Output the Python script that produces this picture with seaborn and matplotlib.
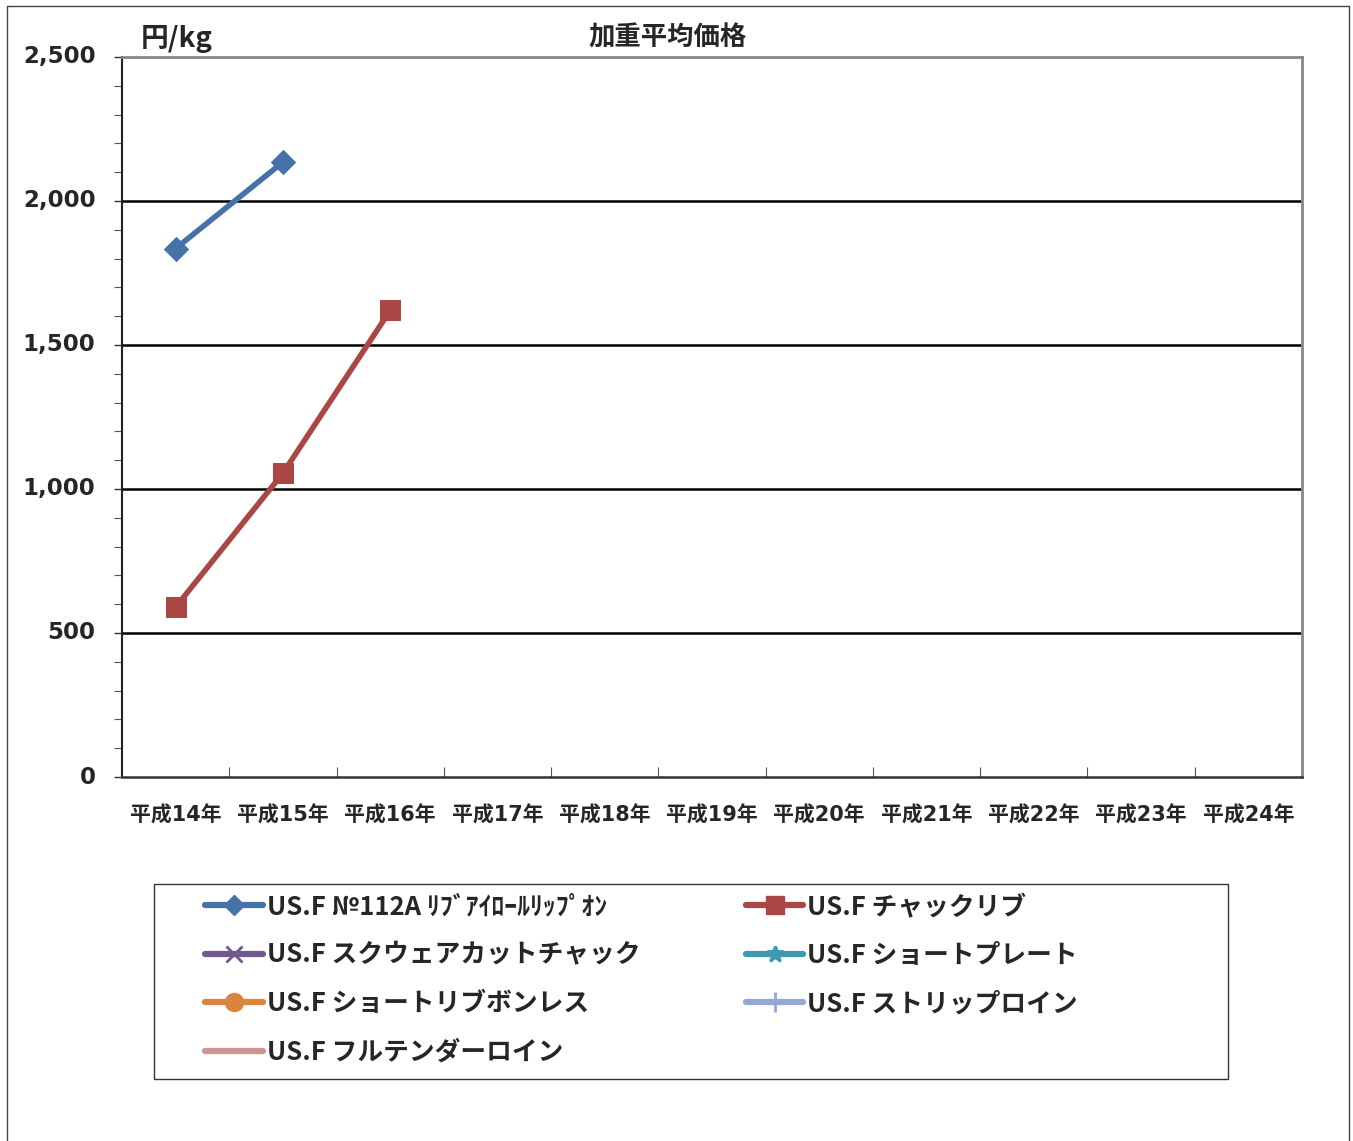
import matplotlib
matplotlib.use("Agg")
import matplotlib.pyplot as plt
from matplotlib.lines import Line2D
from matplotlib.patches import Rectangle
from matplotlib.ticker import MultipleLocator, FixedLocator
import seaborn as sns
import pandas as pd
import numpy as np

sns.set_theme(style="white")
plt.rcParams['font.family'] = ['DejaVu Sans', 'Noto Sans CJK JP']

# ---- data ----
years = ["平成14年", "平成15年", "平成16年", "平成17年", "平成18年", "平成19年",
         "平成20年", "平成21年", "平成22年", "平成23年", "平成24年"]
series_names = ["US.F №112A ﾘﾌﾞｱｲﾛｰﾙﾘｯﾌﾟｵﾝ", "US.F スクウェアカットチャック",
                "US.F ショートリブボンレス", "US.F フルテンダーロイン",
                "US.F チャックリブ", "US.F ショートプレート", "US.F ストリップロイン"]
ribeye_roll_lip_on = [1835, 2135]
chuck_rib = [590, 1055, 1620]
square_cut_chuck = []
short_rib_boneless = []
full_tenderloin = []
short_plate = []
strip_loin = []
y_ticks = [0, 500, 1000, 1500, 2000, 2500]
y_tick_labels = ["0", "500", "1,000", "1,500", "2,000", "2,500"]

values = {
    series_names[0]: ribeye_roll_lip_on,
    series_names[1]: square_cut_chuck,
    series_names[2]: short_rib_boneless,
    series_names[3]: full_tenderloin,
    series_names[4]: chuck_rib,
    series_names[5]: short_plate,
    series_names[6]: strip_loin,
}

styles = {
    series_names[0]: dict(color="#4572A7", marker="D", ms=12.5, lms=10),
    series_names[1]: dict(color="#71588F", marker="x", ms=12, lms=12),
    series_names[2]: dict(color="#DB843D", marker="o", ms=13, lms=13),
    series_names[3]: dict(color="#D19392", marker=None, ms=0, lms=0),
    series_names[4]: dict(color="#AA4643", marker="s", ms=15, lms=13),
    series_names[5]: dict(color="#4198AF", marker="*", ms=13, lms=12),
    series_names[6]: dict(color="#93A9CF", marker="|", ms=14, lms=14),
}

rows = []
for name, vals in values.items():
    for i, v in enumerate(vals):
        rows.append({"系列": name, "年": years[i], "pos": i, "価格": v})
df = pd.DataFrame(rows)

W, H = 1353, 1141
fig = plt.figure(figsize=(W/100, H/100), dpi=100)
ax = fig.add_axes([122/W, 1-777/H, (1302-122)/W, (777-57)/H])

for name in series_names:
    sub = df[df["系列"] == name]
    if len(sub) == 0:
        continue
    st = styles[name]
    sns.lineplot(data=sub, x="pos", y="価格", ax=ax, color=st["color"],
                 marker=st["marker"], markersize=st["ms"], linewidth=4.0,
                 markeredgecolor=st["color"], legend=False, sort=False)

ax.set_xlim(-0.5, len(years) - 0.5)
ax.set_ylim(0, 2500)
ax.set_xlabel("")
ax.set_ylabel("")

# y axis
ax.yaxis.set_major_locator(FixedLocator(y_ticks))
ax.set_yticklabels(y_tick_labels, fontsize=16.5, fontweight="bold", family="DejaVu Sans",
                   va="center")
ax.yaxis.set_minor_locator(MultipleLocator(100))
ax.tick_params(axis="y", which="major", direction="out", length=6, width=1,
               color="#333333", pad=13, left=True)
ax.tick_params(axis="y", which="minor", direction="out", length=6, width=0.8,
               color="#555555", left=True)
for yv in y_ticks[1:-1]:
    ax.axhline(yv, color="black", lw=1.8, zorder=0.5)

# x axis: boundaries as major ticks, labels at centers
bounds = np.arange(0.5, len(years) - 0.5, 1.0)
ax.xaxis.set_major_locator(FixedLocator(bounds))
ax.xaxis.set_major_formatter(plt.NullFormatter())
ax.xaxis.set_minor_locator(FixedLocator(np.arange(len(years))))
ax.set_xticklabels(years, minor=True, fontsize=15, fontweight="bold",
                   family=["DejaVu Sans", "Noto Sans CJK JP"])
ax.tick_params(axis="x", which="major", direction="in", length=7, width=0.8,
               color="#555555", bottom=True)
ax.tick_params(axis="x", which="minor", length=0, pad=20.5, bottom=True)

for side, c, w in [("left", "#222222", 1.5), ("bottom", "#333333", 1.8),
                   ("top", "#888888", 2.0), ("right", "#888888", 2.0)]:
    ax.spines[side].set_visible(True)
    ax.spines[side].set_color(c)
    ax.spines[side].set_linewidth(w)

# titles
fig.text(668/W, 1-38/H, "加重平均価格", ha="center", va="center",
         fontsize=19, fontweight="bold", family=["Noto Sans CJK JP"])
fig.text(141/W, 1-39/H, "円/kg", ha="left", va="center",
         fontsize=20, fontweight="bold", family=["Noto Sans CJK JP", "DejaVu Sans"])

# legend
handles = []
for name in series_names:
    st = styles[name]
    handles.append(Line2D([0], [0], color=st["color"], lw=4.5, marker=st["marker"],
                          markersize=st["lms"], markeredgecolor=st["color"],
                          solid_capstyle="round",
                          markeredgewidth=2 if st["marker"] in ("x", "|", "*") else 1))
fig.add_artist(Rectangle((154/W, 1-1079/H), (1228-154)/W, (1079-884)/H,
                         transform=fig.transFigure, fill=False,
                         edgecolor="#333333", lw=1.0))
leg = fig.legend(handles, series_names, loc="upper left",
                 bbox_to_anchor=(205/W, 1-893/H), ncol=2,
                 prop={"family": ["Noto Sans CJK JP"], "weight": "bold", "size": 18.5},
                 frameon=False, handlelength=2.25, handletextpad=0.15,
                 columnspacing=4.1, labelspacing=0.84, borderpad=0, borderaxespad=0)

# outer frame
for xs, ys in [([7/W, 7/W], [0, 1-6/H]),
               ([7/W, 1349/W], [1-6/H, 1-6/H]),
               ([1349/W, 1349/W], [0, 1-6/H])]:
    fig.add_artist(Line2D(xs, ys, color="#444444", lw=1.0))

fig.savefig("out.png", dpi=100)
